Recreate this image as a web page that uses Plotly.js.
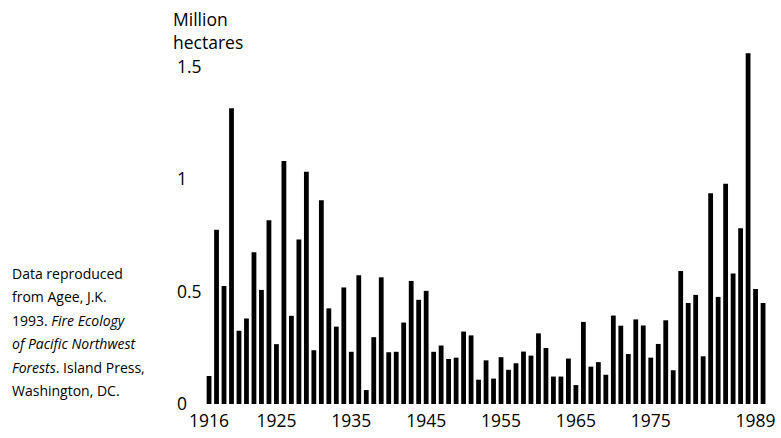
<!DOCTYPE html>
<html>
<head>
<meta charset="utf-8">
<script src="https://cdn.plot.ly/plotly-3.0.1.min.js"></script>
<style>html,body{margin:0;padding:0;background:#fff;}#chart{width:781px;height:438px;}</style>
</head>
<body>
<div id="chart"></div>
<script>
// Area burned, million hectares, one bar per year
const years = [];
for (let y = 1916; y <= 1990; y++) years.push(y);
const burned = [
  0.125, 0.775, 0.525, 1.314, 0.326, 0.380, 0.674, 0.507, 0.817, 0.266,
  1.080, 0.392, 0.731, 1.032, 0.239, 0.906, 0.425, 0.344, 0.518, 0.232,
  0.572, 0.062, 0.297, 0.563, 0.230, 0.232, 0.362, 0.547, 0.463, 0.503,
  0.232, 0.260, 0.200, 0.206, 0.322, 0.305, 0.108, 0.194, 0.113, 0.208,
  0.152, 0.181, 0.233, 0.215, 0.314, 0.249, 0.122, 0.122, 0.202, 0.084,
  0.365, 0.166, 0.186, 0.130, 0.393, 0.348, 0.222, 0.376, 0.349, 0.206,
  0.267, 0.372, 0.150, 0.591, 0.449, 0.485, 0.212, 0.937, 0.476, 0.979,
  0.580, 0.781, 1.559, 0.511, 0.449
];
const xTickVals = [1916, 1925, 1935, 1945, 1955, 1965, 1975, 1989];
const xTickText = ["1916", "1925", "1935", "1945", "1955", "1965", "1975", "1989"];
const yTickVals = [0, 0.5, 1, 1.5];
const yTickText = ["0", "0.5", "1", "1.5"];
const yTitleLines = "Million<br>hectares";
const noteLines = [
  "Data reproduced",
  "from Agee, J.K.",
  "1993. <i>Fire Ecology</i>",
  "<i>of Pacific Northwest</i>",
  "<i>Forests</i>. Island Press,",
  "Washington, DC."
];

const W = 781, H = 438;
const font = "Open Sans, Noto Sans, sans-serif";
const noteY = [273, 296, 320, 343, 367, 390];
const pxPerUnit = 225, baseY = 404, topY = 45, botY = 420;

const annotations = noteLines.map((t, i) => ({
  text: t, xref: "paper", yref: "paper",
  x: 10 / W, y: 1 - noteY[i] / H, xanchor: "left", yanchor: "middle",
  showarrow: false, align: "left",
  font: {family: font, size: 14, color: "#000"}
}));
annotations.push({
  text: yTitleLines, xref: "paper", yref: "paper",
  x: 171 / W, y: 1 - 5 / H, xanchor: "left", yanchor: "top",
  showarrow: false, align: "left",
  font: {family: font, size: 17.5, color: "#000"}
});

const data = [{
  type: "bar", x: years, y: burned,
  marker: {color: "#000", line: {width: 0}},
  hoverinfo: "x+y"
}];

const layout = {
  width: W, height: H,
  margin: {l: 0, r: 0, t: 0, b: 0, pad: 0},
  paper_bgcolor: "#fff", plot_bgcolor: "#fff",
  showlegend: false,
  bargap: 0.36,
  font: {family: font, size: 17.5, color: "#000"},
  xaxis: {
    domain: [205.3 / W, 766.8 / W],
    range: [1915.5, 1990.5],
    tickmode: "array", tickvals: xTickVals, ticktext: xTickText,
    showgrid: false, zeroline: false, showline: false, ticks: "",
    ticklabelstandoff: -12,
    tickfont: {family: font, size: 17.5, color: "#000"}
  },
  yaxis: {
    domain: [1 - botY / H, 1 - topY / H],
    range: [-(botY - baseY) / pxPerUnit, (baseY - topY) / pxPerUnit],
    anchor: "free", position: 173 / W,
    ticklabelposition: "inside",
    tickmode: "array", tickvals: yTickVals, ticktext: yTickText,
    showgrid: false, zeroline: false, showline: false, ticks: "",
    tickfont: {family: font, size: 17.5, color: "#000"}
  },
  annotations: annotations
};

Plotly.newPlot("chart", data, layout, {staticPlot: true, displayModeBar: false});
</script>
</body>
</html>
